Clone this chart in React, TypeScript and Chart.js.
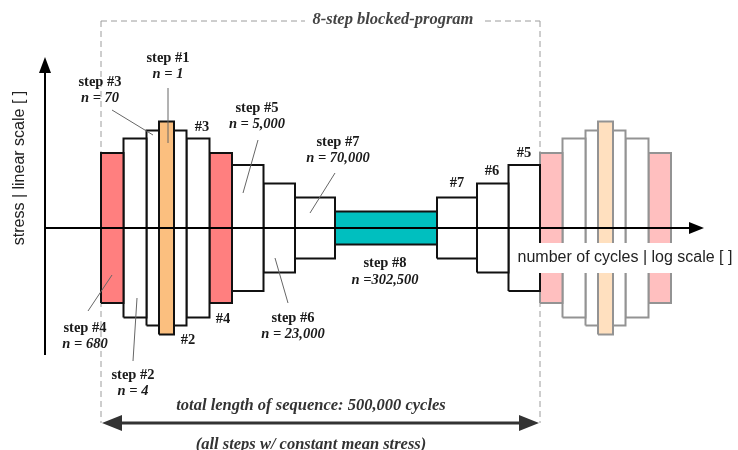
import React, { useEffect, useRef } from 'react';
import { Chart, registerables } from 'chart.js';

Chart.register(...registerables);

// ---- data ----
const stepIds = [1, 2, 3, 4, 5, 6, 7, 8];
const stepCycles = ['1', '4', '70', '680', '5,000', '23,000', '70,000', '302,500'];
// stress amplitude of each step (linear scale, arbitrary units)
const stepStressAmplitude = [106.5, 89.5, 97.5, 75, 63, 44.5, 30.5, 16.5];
// width of each step along the cycles axis (log scale, arbitrary units)
const stepLogWidth = [15, 23, 12.5, 22.5, 31.5, 31.5, 40, 102];
// order of the steps in one block and the start of the next block
const blockSequence = [4, 2, 3, 1, 3, 2, 4, 5, 6, 7, 8, 7, 6, 5];
const nextBlockSequence = [4, 2, 3, 1, 3, 2, 4];
const totalCyclesLabel = '500,000';

// ---- styles ----
const stepColor = ['#FBBF7F', '#FFFFFF', '#FFFFFF', '#FF7F7F', '#FFFFFF', '#FFFFFF', '#FFFFFF', '#00BFBF'];
const stepColorFaded = ['#FFE0BF', '#FFFFFF', '#FFFFFF', '#FFBFBF', '#FFFFFF', '#FFFFFF', '#FFFFFF', '#BFEFEF'];

const SERIF_B = 'bold 14.5px "Liberation Serif", "Times New Roman", serif';
const SERIF_BI = 'italic bold 14.5px "Liberation Serif", "Times New Roman", serif';
const SERIF_BI_L = 'italic bold 16.5px "Liberation Serif", "Times New Roman", serif';
const SANS = '16px "Liberation Sans", Arial, sans-serif';

function buildDatasets() {
  const datasets: any[] = [];
  let x = 0;
  const add = (seq: number[], faded: boolean) => {
    seq.forEach((step) => {
      const i = stepIds.indexOf(step);
      const a = stepStressAmplitude[i];
      const x0 = x;
      const x1 = x + stepLogWidth[i];
      x = x1;
      datasets.push({
        type: 'line',
        label: `step #${step}`,
        data: [
          { x: x0, y: -a },
          { x: x0, y: a },
          { x: x1, y: a },
          { x: x1, y: -a },
          { x: x0, y: -a },
        ],
        fill: 'shape',
        backgroundColor: faded ? stepColorFaded[i] : stepColor[i],
        borderColor: faded ? '#939393' : '#111111',
        borderWidth: 2,
        borderJoinStyle: 'miter',
        pointRadius: 0,
        tension: 0,
      });
    });
  };
  add(blockSequence, false);
  add(nextBlockSequence, true);
  return datasets;
}

function text(ctx: CanvasRenderingContext2D, s: string, x: number, y: number, font: string, color = '#1a1a1a') {
  ctx.font = font;
  ctx.fillStyle = color;
  ctx.textAlign = 'center';
  ctx.textBaseline = 'middle';
  ctx.fillText(s, x, y);
}

function line(ctx: CanvasRenderingContext2D, x0: number, y0: number, x1: number, y1: number, color: string, w: number) {
  ctx.beginPath();
  ctx.strokeStyle = color;
  ctx.lineWidth = w;
  ctx.moveTo(x0, y0);
  ctx.lineTo(x1, y1);
  ctx.stroke();
}

function tri(ctx: CanvasRenderingContext2D, pts: number[][], color: string) {
  ctx.beginPath();
  ctx.fillStyle = color;
  ctx.moveTo(pts[0][0], pts[0][1]);
  ctx.lineTo(pts[1][0], pts[1][1]);
  ctx.lineTo(pts[2][0], pts[2][1]);
  ctx.closePath();
  ctx.fill();
}

function blockLength() {
  let len = 0;
  blockSequence.forEach((s) => (len += stepLogWidth[stepIds.indexOf(s)]));
  return len;
}

const diagramPlugin = {
  id: 'diagram',
  beforeDatasetsDraw(chart: any) {
    const ctx: CanvasRenderingContext2D = chart.ctx;
    const sx = chart.scales.x;
    const blockStart = sx.getPixelForValue(0);
    const blockEnd = sx.getPixelForValue(blockLength());
    ctx.save();
    ctx.setLineDash([6, 4]);
    line(ctx, blockStart, 21, blockStart, 423, '#9c9c9c', 1);
    line(ctx, blockEnd, 21, blockEnd, 423, '#9c9c9c', 1);
    line(ctx, blockStart, 21, 305, 21, '#9c9c9c', 1);
    line(ctx, 485, 21, blockEnd, 21, '#9c9c9c', 1);
    ctx.setLineDash([]);
    text(ctx, '8-step blocked-program', 393, 20, SERIF_BI_L, '#444');
    ctx.restore();
  },
  afterDatasetsDraw(chart: any) {
    const ctx: CanvasRenderingContext2D = chart.ctx;
    const sx = chart.scales.x;
    const sy = chart.scales.y;
    const x0 = sx.getPixelForValue(-56);
    const y0 = sy.getPixelForValue(0);
    ctx.save();
    // axes
    line(ctx, x0, 72, x0, 355, '#000', 2);
    tri(ctx, [[x0, 57], [x0 - 6, 73], [x0 + 6, 73]], '#000');
    line(ctx, x0, y0, 690, y0, '#000', 2);
    tri(ctx, [[704, y0], [689, y0 - 6], [689, y0 + 6]], '#000');

    // axis titles
    ctx.save();
    ctx.translate(20, 168);
    ctx.rotate(-Math.PI / 2);
    text(ctx, 'stress | linear scale [ ]', 0, 0, SANS, '#222');
    ctx.restore();
    ctx.fillStyle = '#fff';
    ctx.fillRect(512, 243, 225, 30);
    text(ctx, 'number of cycles | log scale [ ]', 625, 258, SANS, '#222');

    // leaders
    const lc = '#666';
    line(ctx, 168, 88, 168, 143, lc, 1);
    line(ctx, 112, 110, 153, 135, lc, 1);
    line(ctx, 258, 140, 243, 193, lc, 1);
    line(ctx, 335, 173, 310, 213, lc, 1);
    line(ctx, 112, 275, 88, 311, lc, 1);
    line(ctx, 137, 298, 133, 361, lc, 1);
    line(ctx, 275, 258, 288, 303, lc, 1);

    // step labels
    const n = (k: number) => `n = ${stepCycles[k - 1]}`;
    text(ctx, 'step #1', 168, 58, SERIF_B);
    text(ctx, n(1), 168, 74, SERIF_BI);
    text(ctx, 'step #3', 100, 82, SERIF_B);
    text(ctx, n(3), 100, 98, SERIF_BI);
    text(ctx, '#3', 202, 127, SERIF_B);
    text(ctx, 'step #5', 257, 108, SERIF_B);
    text(ctx, n(5), 257, 124, SERIF_BI);
    text(ctx, 'step #7', 338, 142, SERIF_B);
    text(ctx, n(7), 338, 158, SERIF_BI);
    text(ctx, '#7', 457, 183, SERIF_B);
    text(ctx, '#6', 492, 171, SERIF_B);
    text(ctx, '#5', 524, 153, SERIF_B);
    text(ctx, 'step #4', 85, 328, SERIF_B);
    text(ctx, n(4), 85, 344, SERIF_BI);
    text(ctx, 'step #2', 133, 375, SERIF_B);
    text(ctx, n(2), 133, 391, SERIF_BI);
    text(ctx, '#4', 223, 319, SERIF_B);
    text(ctx, '#2', 188, 340, SERIF_B);
    text(ctx, 'step #6', 293, 318, SERIF_B);
    text(ctx, n(6), 293, 334, SERIF_BI);
    text(ctx, 'step #8', 385, 263, SERIF_B);
    text(ctx, `n =${stepCycles[7]}`, 385, 280, SERIF_BI);

    // total-length arrow
    const ac = '#333';
    const bs = sx.getPixelForValue(0);
    const be = sx.getPixelForValue(blockLength());
    line(ctx, bs + 16, 423, be - 16, 423, ac, 3);
    tri(ctx, [[bs + 1, 423], [bs + 21, 415], [bs + 21, 431]], ac);
    tri(ctx, [[be - 1, 423], [be - 21, 415], [be - 21, 431]], ac);
    text(ctx, `total length of sequence: ${totalCyclesLabel} cycles`, 311, 406, SERIF_BI_L, '#333');
    text(ctx, '(all steps w/ constant mean stress)', 311, 445, SERIF_BI_L, '#333');
    ctx.restore();
  },
};

export default function App() {
  const ref = useRef<HTMLCanvasElement | null>(null);
  useEffect(() => {
    if (!ref.current) return;
    const chart = new Chart(ref.current, {
      type: 'line',
      data: { datasets: buildDatasets() },
      options: {
        animation: false,
        responsive: false,
        events: [],
        layout: { padding: 0 },
        plugins: { legend: { display: false }, tooltip: { enabled: false }, title: { display: false } },
        scales: {
          x: { type: 'linear', min: -101, max: 637, display: false },
          y: { type: 'linear', min: -222, max: 228, display: false },
        },
      },
      plugins: [diagramPlugin],
    } as any);
    return () => chart.destroy();
  }, []);
  return (
    <div style={{ position: 'absolute', left: 0, top: 0, width: 738, height: 450, background: '#fff' }}>
      <canvas ref={ref} width={738} height={450} />
    </div>
  );
}
